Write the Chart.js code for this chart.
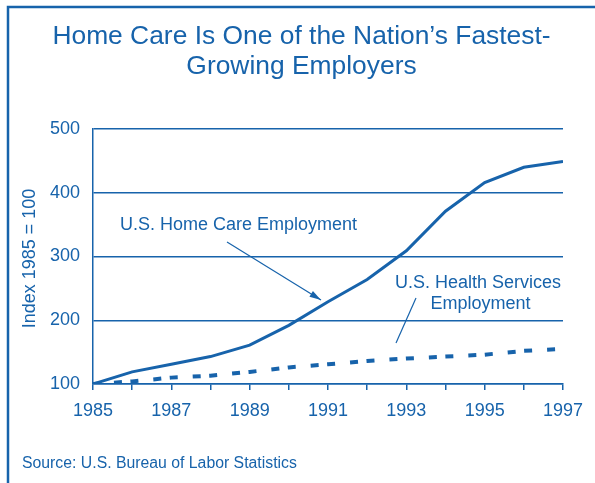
<!DOCTYPE html>
<html>
<head>
<meta charset="utf-8">
<script src="https://cdn.jsdelivr.net/npm/chart.js@4"></script>
<style>
  html, body { margin: 0; padding: 0; background: #fff; }
  #wrap { width: 595px; height: 483px; position: relative; }
</style>
</head>
<body>
<div id="wrap"><canvas id="chart"></canvas></div>
<script>
const BLUE = "#1763ab";
const FONT = "'Liberation Sans', Arial, sans-serif";

const years = [1985, 1986, 1987, 1988, 1989, 1990, 1991, 1992, 1993, 1994, 1995, 1996, 1997];
const homeCare = [100, 119, 131, 143, 161, 192, 229, 264, 309, 371, 416, 440, 449];
const healthServices = [100, 104, 110, 113, 119, 126, 131, 136, 140, 143, 146, 152, 155];
const yTicks = [100, 200, 300, 400, 500];

const titleLines = ["Home Care Is One of the Nation\u2019s Fastest-", "Growing Employers"];
const yTitle = "Index 1985 = 100";
const sourceText = "Source: U.S. Bureau of Labor Statistics";

// text + arrows drawn on top of the chart
const extras = {
  id: "extras",
  afterDraw(chart) {
    const ctx = chart.ctx;
    ctx.save();
    ctx.fillStyle = BLUE;
    ctx.strokeStyle = BLUE;

    // frame
    ctx.lineWidth = 2.5;
    ctx.beginPath();
    ctx.moveTo(8, 483);
    ctx.lineTo(8, 7);
    ctx.lineTo(595, 7);
    ctx.stroke();

    // title
    ctx.textAlign = "center";
    ctx.textBaseline = "alphabetic";
    ctx.font = "26.4px " + FONT;
    ctx.fillText(titleLines[0], 301.5, 44);
    ctx.fillText(titleLines[1], 301.5, 74);

    // y axis title
    ctx.save();
    ctx.translate(30, 258.5);
    ctx.rotate(-Math.PI / 2);
    ctx.textBaseline = "middle";
    ctx.font = "18px " + FONT;
    ctx.fillText(yTitle, 0, 0);
    ctx.restore();

    // source
    ctx.textAlign = "left";
    ctx.font = "15.8px " + FONT;
    ctx.fillText(sourceText, 22, 468);

    // series labels
    ctx.font = "18px " + FONT;
    ctx.textAlign = "left";
    ctx.fillText("U.S. Home Care Employment", 120, 230);
    ctx.textAlign = "center";
    ctx.fillText("U.S. Health Services", 478, 287.5);
    ctx.fillText("Employment", 480.5, 308.5);

    // arrow to home care line
    const x0 = 227, y0 = 242;
    const x1 = 321, y1 = 300;
    ctx.lineWidth = 1.2;
    ctx.beginPath();
    ctx.moveTo(x0, y0);
    ctx.lineTo(x1, y1);
    ctx.stroke();
    const a = Math.atan2(y1 - y0, x1 - x0);
    ctx.beginPath();
    ctx.moveTo(x1, y1);
    ctx.lineTo(x1 - 12 * Math.cos(a - 0.28), y1 - 12 * Math.sin(a - 0.28));
    ctx.lineTo(x1 - 12 * Math.cos(a + 0.28), y1 - 12 * Math.sin(a + 0.28));
    ctx.closePath();
    ctx.fill();

    // pointer to health services line
    ctx.beginPath();
    ctx.moveTo(416, 298);
    ctx.lineTo(396, 343);
    ctx.stroke();

    ctx.restore();
  }
};

new Chart(document.getElementById("chart"), {
  type: "line",
  data: {
    labels: years,
    datasets: [
      {
        label: "U.S. Home Care Employment",
        data: years.map((yr, i) => ({x: yr, y: homeCare[i]})),
        borderColor: BLUE,
        borderWidth: 3,
        pointRadius: 0,
        tension: 0,
      },
      {
        label: "U.S. Health Services Employment",
        data: years.map((yr, i) => ({x: yr, y: healthServices[i]})),
        borderColor: BLUE,
        borderWidth: 4,
        borderDash: [8, 15, 8, 8.5],
        borderDashOffset: 2,
        borderCapStyle: "butt",
        pointRadius: 0,
        tension: 0,
      },
    ],
  },
  options: {
    responsive: true,
    maintainAspectRatio: false,
    animation: false,
    layout: {padding: {top: 129, right: 32, bottom: 0, left: 0}},
    plugins: {
      legend: {display: false},
      title: {display: false},
      tooltip: {enabled: false},
    },
    scales: {
      x: {
        type: "linear",
        min: 1985,
        max: 1997,
        afterFit: s => { s.height = 99; },
        afterBuildTicks: s => { s.ticks = years.map(v => ({value: v})); },
        grid: {drawOnChartArea: false, drawTicks: true, tickLength: 6, color: BLUE, lineWidth: 1.5},
        border: {display: true, color: BLUE, width: 1.5},
        ticks: {
          color: BLUE,
          font: {size: 18, family: FONT},
          padding: 10,
          maxRotation: 0,
          autoSkip: false,
          callback: v => (v % 2 === 1 ? String(v) : ""),
        },
      },
      y: {
        min: 100,
        max: 500,
        afterFit: s => { s.width = 93; },
        afterBuildTicks: s => { s.ticks = yTicks.map(v => ({value: v})); },
        grid: {drawTicks: false, color: BLUE, lineWidth: 1.5},
        border: {display: true, color: BLUE, width: 1.5},
        ticks: {color: BLUE, font: {size: 18, family: FONT}, padding: 13},
      },
    },
  },
  plugins: [extras],
});
</script>
</body>
</html>
